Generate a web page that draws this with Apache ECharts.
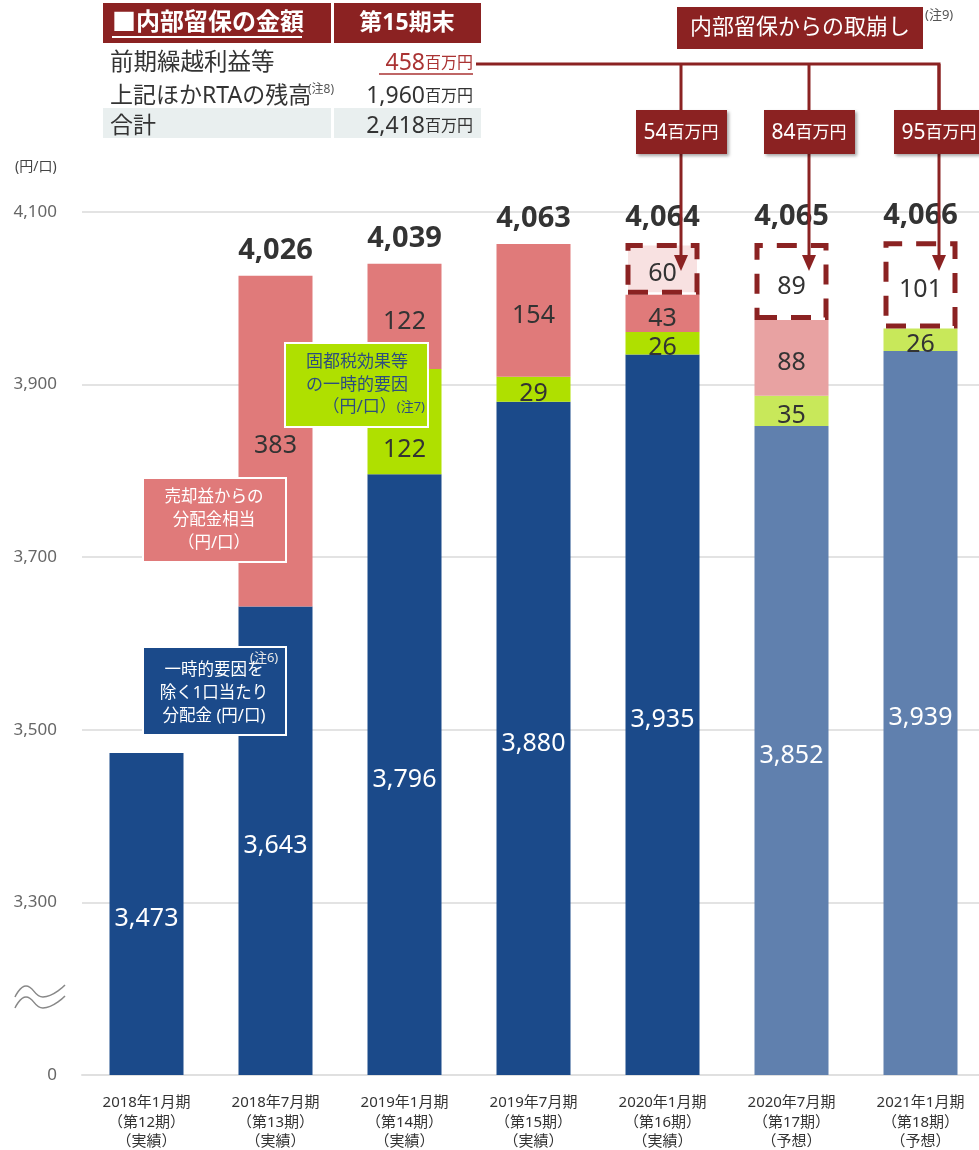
<!DOCTYPE html>
<html>
<head>
<meta charset="utf-8">
<script src="https://cdn.jsdelivr.net/npm/echarts@6/dist/echarts.min.js"></script>
<style>
  html, body { margin: 0; padding: 0; background: #fff; overflow: hidden; }
  #chart { width: 990px; height: 1150px; }
</style>
</head>
<body>
<div id="chart"></div>
<script>
// 期ごとのデータ（円/口）
const categories = [
  '2018年1月期\n（第12期）\n（実績）',
  '2018年7月期\n（第13期）\n（実績）',
  '2019年1月期\n（第14期）\n（実績）',
  '2019年7月期\n（第15期）\n（実績）',
  '2020年1月期\n（第16期）\n（実績）',
  '2020年7月期\n（第17期）\n（予想）',
  '2021年1月期\n（第18期）\n（予想）'
];
const baseValues = [3473, 3643, 3796, 3880, 3935, 3852, 3939];   // 一時的要因を除く分配金
const taxValues = [null, null, 122, 29, 26, 35, 26];             // 固都税効果等
const saleValues = [null, 383, 122, 154, 43, 88, null];          // 売却益
const reserveValues = [null, null, null, null, 60, 89, 101];     // 内部留保取崩し
const totalValues = [null, 4026, 4039, 4063, 4064, 4065, 4066];
const isForecast = [false, false, false, false, false, true, true];
const yTicks = [3100, 3300, 3500, 3700, 3900, 4100];             // 3100 は「0」と表示（省略軸）

const FONT = "'Noto Sans', 'Noto Sans CJK JP', sans-serif";
const RED = '#8b2222';

const colors = {
  base: ['#1b4a8a', '#6080ae'],
  tax: ['#afe000', '#c8e85a'],
  sale: ['#e07a7a', '#e8a2a2']
};

function items(values, key) {
  return values.map((v, i) => v == null ? null : {
    value: v,
    itemStyle: { color: colors[key][isForecast[i] ? 1 : 0] }
  });
}

const segLabel = {
  show: true,
  position: 'inside',
  offset: [0, 5],
  fontSize: 25,
  color: '#333',
  fontFamily: FONT
};

const taxData = items(taxValues, 'tax');
// 第14期の数値は注釈の下にずらして表示
taxData[2].label = { offset: [0, 28] };

const chart = echarts.init(document.getElementById('chart'));

const option = {
  animation: false,
  textStyle: { fontFamily: FONT },
  grid: { left: 82, top: 212, width: 903, height: 863, outerBoundsMode: 'none' },
  xAxis: {
    type: 'category',
    data: categories,
    axisTick: { show: false },
    axisLine: { lineStyle: { color: '#e0e0e0', width: 2 } },
    axisLabel: { fontSize: 15, lineHeight: 19.5, color: '#333', margin: 18, interval: 0 }
  },
  yAxis: {
    type: 'value',
    min: 3100,
    max: 4100,
    interval: 200,
    axisLine: { show: false },
    axisTick: { show: false },
    splitLine: { lineStyle: { color: '#e3e3e3', width: 2 } },
    axisLabel: {
      fontSize: 17,
      color: '#666',
      margin: 25,
      formatter: v => yTicks.includes(v) ? (v === 3100 ? '0' : v.toLocaleString('en-US')) : ''
    }
  },
  series: [
    {
      name: '一時的要因を除く1口当たり分配金',
      type: 'bar',
      stack: 'total',
      barWidth: 74,
      data: items(baseValues, 'base'),
      label: Object.assign({}, segLabel, { color: '#fff', formatter: p => p.value.toLocaleString('en-US') })
    },
    {
      name: '固都税効果等の一時的要因',
      type: 'bar',
      stack: 'total',
      barWidth: 74,
      data: taxData,
      label: segLabel
    },
    {
      name: '売却益からの分配金相当',
      type: 'bar',
      stack: 'total',
      barWidth: 74,
      data: items(saleValues, 'sale'),
      label: segLabel
    },
    {
      name: '内部留保からの取崩し',
      type: 'bar',
      stack: 'total',
      barWidth: 74,
      data: reserveValues.map((v, i) => v == null ? null : {
        value: v,
        itemStyle: { color: isForecast[i] ? '#ffffff' : '#f8e1e1' }
      }),
      itemStyle: { borderColor: RED, borderWidth: 5, borderType: [20, 14] },
      label: segLabel
    },
    {
      name: '合計',
      type: 'scatter',
      data: totalValues,
      symbolSize: 0,
      itemStyle: { color: '#333', opacity: 1 },
      label: {
        show: true,
        position: 'top',
        distance: 11,
        fontSize: 29,
        fontWeight: 'bold',
        color: '#333',
        fontFamily: FONT,
        formatter: p => p.value.toLocaleString('en-US')
      },
      z: 3
    }
  ],
  graphic: [
    // 単位
    { type: 'text', style: { x: 15, y: 167, text: '(円/口)', fill: '#444', font: '14px ' + FONT, verticalAlign: 'middle' } },
    // 省略記号
    { type: 'polyline', shape: { points: [[15, 997], [26, 986], [43, 997], [65, 985]], smooth: 0.5 }, style: { stroke: '#888', lineWidth: 1.5, fill: null } },
    { type: 'polyline', shape: { points: [[15, 1008], [26, 997], [43, 1008], [65, 996]], smooth: 0.5 }, style: { stroke: '#888', lineWidth: 1.5, fill: null } },

    // 内部留保の金額 表
    { type: 'rect', shape: { x: 103, y: 3, width: 228, height: 40 }, style: { fill: RED } },
    { type: 'rect', shape: { x: 334, y: 3, width: 147, height: 40 }, style: { fill: RED } },
    { type: 'text', style: { x: 112, y: 23, text: '■内部留保の金額', fill: '#fff', font: 'bold 24px ' + FONT, verticalAlign: 'middle' } },
    { type: 'line', shape: { x1: 112, y1: 37, x2: 302, y2: 37 }, style: { stroke: '#fff', lineWidth: 2 } },
    { type: 'text', style: { x: 407, y: 23, text: '第15期末', fill: '#fff', font: 'bold 23px ' + FONT, align: 'center', verticalAlign: 'middle' } },
    { type: 'rect', shape: { x: 103, y: 108, width: 228, height: 30 }, style: { fill: '#e9efef' } },
    { type: 'rect', shape: { x: 334, y: 108, width: 147, height: 30 }, style: { fill: '#e9efef' } },
    { type: 'text', style: { x: 110, y: 63, text: '前期繰越利益等', fill: '#333', font: '23.5px ' + FONT, verticalAlign: 'middle' } },
    { type: 'text', style: { x: 110, y: 96, text: '上記ほかRTAの残高', fill: '#333', font: '23px ' + FONT, verticalAlign: 'middle' } },
    { type: 'text', style: { x: 308, y: 90, text: '(注8)', fill: '#555', font: '12px ' + FONT, verticalAlign: 'middle' } },
    { type: 'text', style: { x: 110, y: 126, text: '合計', fill: '#333', font: '23px ' + FONT, verticalAlign: 'middle' } },
    {
      type: 'text',
      style: {
        x: 473, y: 63, align: 'right', verticalAlign: 'middle',
        text: '{a|458}{b|百万円}',
        rich: { a: { fontSize: 23, fill: '#a33', fontFamily: FONT }, b: { fontSize: 16, fill: '#a33', fontFamily: FONT } }
      }
    },
    { type: 'line', shape: { x1: 379, y1: 74, x2: 473, y2: 74 }, style: { stroke: '#a33', lineWidth: 1.5 } },
    {
      type: 'text',
      style: {
        x: 473, y: 96, align: 'right', verticalAlign: 'middle',
        text: '{a|1,960}{b|百万円}',
        rich: { a: { fontSize: 23, fill: '#333', fontFamily: FONT }, b: { fontSize: 16, fill: '#333', fontFamily: FONT } }
      }
    },
    {
      type: 'text',
      style: {
        x: 473, y: 126, align: 'right', verticalAlign: 'middle',
        text: '{a|2,418}{b|百万円}',
        rich: { a: { fontSize: 23, fill: '#333', fontFamily: FONT }, b: { fontSize: 16, fill: '#333', fontFamily: FONT } }
      }
    },

    // 内部留保からの取崩し
    { type: 'rect', shape: { x: 677, y: 7, width: 246, height: 42 }, style: { fill: RED } },
    { type: 'text', style: { x: 800, y: 28, text: '内部留保からの取崩し', fill: '#fff', font: '22px ' + FONT, align: 'center', verticalAlign: 'middle' } },
    { type: 'text', style: { x: 925, y: 15, text: '(注9)', fill: '#555', font: '13px ' + FONT, verticalAlign: 'middle' } },
    { type: 'polyline', z: 120, shape: { points: [[476, 64], [939, 64], [939, 110]] }, style: { stroke: RED, lineWidth: 3, fill: null } },
    ...[681, 809, 939].flatMap((x, i) => {
      const amounts = ['54', '84', '95'];
      return [
        { type: 'line', z: 120, shape: { x1: x, y1: 64, x2: x, y2: 110 }, style: { stroke: RED, lineWidth: 3 } },
        { type: 'line', z: 120, shape: { x1: x, y1: 154, x2: x, y2: 258 }, style: { stroke: RED, lineWidth: 3 } },
        { type: 'polygon', z: 120, shape: { points: [[x - 7, 255], [x + 7, 255], [x, 271]] }, style: { fill: RED } },
        {
          type: 'rect', z: 121, shape: { x: x - 45, y: 110, width: 91, height: 44 },
          style: { fill: RED, shadowBlur: 3, shadowOffsetX: 2, shadowOffsetY: 2, shadowColor: 'rgba(0,0,0,0.35)' }
        },
        {
          type: 'text', z: 122,
          style: {
            x: x, y: 133, align: 'center', verticalAlign: 'middle',
            text: '{a|' + amounts[i] + '}{b|百万円}',
            rich: { a: { fontSize: 21, fill: '#fff', fontFamily: FONT }, b: { fontSize: 17, fill: '#fff', fontFamily: FONT } }
          }
        }
      ];
    }),

    // 凡例ボックス
    { type: 'rect', z: 100, shape: { x: 143, y: 478, width: 143, height: 84 }, style: { fill: '#e07a7a', stroke: '#fff', lineWidth: 2 } },
    { type: 'text', z: 101, style: { x: 214, y: 520, text: '売却益からの\n分配金相当\n（円/口）', fill: '#fff', font: '16.5px ' + FONT, lineHeight: 23, align: 'center', verticalAlign: 'middle' } },
    { type: 'rect', z: 100, shape: { x: 143, y: 647, width: 143, height: 88 }, style: { fill: '#1b4a8a', stroke: '#fff', lineWidth: 2 } },
    { type: 'text', z: 101, style: { x: 214, y: 693, text: '一時的要因を\n除く1口当たり\n分配金 (円/口)', fill: '#fff', font: '16.5px ' + FONT, lineHeight: 23, align: 'center', verticalAlign: 'middle' } },
    { type: 'text', z: 101, style: { x: 250, y: 658, text: '(注6)', fill: '#e8e8e8', font: '13px ' + FONT, verticalAlign: 'middle' } },
    { type: 'rect', z: 100, shape: { x: 285, y: 343, width: 143, height: 84 }, style: { fill: '#afe000', stroke: '#fff', lineWidth: 2 } },
    { type: 'text', z: 101, style: { x: 357, y: 362, text: '固都税効果等', fill: '#2d4e7e', font: '17px ' + FONT, align: 'center', verticalAlign: 'middle' } },
    { type: 'text', z: 101, style: { x: 357, y: 385, text: 'の一時的要因', fill: '#2d4e7e', font: '17px ' + FONT, align: 'center', verticalAlign: 'middle' } },
    {
      type: 'text', z: 101,
      style: {
        x: 425, y: 407, align: 'right', verticalAlign: 'middle',
        text: '{a|（円/口）}{b|(注7)}',
        rich: { a: { fontSize: 17, fill: '#2d4e7e', fontFamily: FONT }, b: { fontSize: 13, fill: '#2d4e7e', fontFamily: FONT } }
      }
    }
  ]
};

chart.setOption(option);
</script>
</body>
</html>
